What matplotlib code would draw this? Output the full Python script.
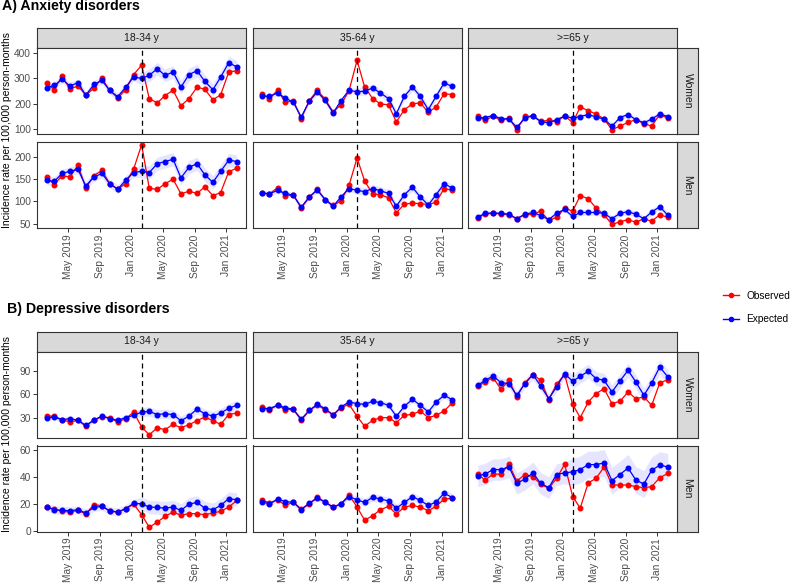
"""
Observed vs expected monthly incidence of anxiety and depressive disorders,
by age group and sex, with the March 2020 break marked.
"""
import matplotlib
matplotlib.use("Agg")
import matplotlib.dates as mdates
import matplotlib.pyplot as plt
import numpy as np
import pandas as pd
from matplotlib.lines import Line2D

plt.rcParams["font.family"] = ["Liberation Sans", "DejaVu Sans"]

W, H = 793, 584
RED = "#FF0000"
BLUE = "#0000FF"
GREY20 = "#333333"
GREY30 = "#4D4D4D"
STRIP = "#D9D9D9"

MONTHS = pd.date_range("2019-02-10", periods=25, freq=pd.DateOffset(months=1))
BREAK_IDX = 12
AGES = ["18-34 y", "35-64 y", ">=65 y"]
SEXES = ["Women", "Men"]

# ---- A) anxiety, expected / observed per 100,000 person-months
ANX_W_1834_EXP = [263, 272, 296, 270, 283, 233, 276, 292, 252, 228, 264, 305, 300,
                  312, 338, 312, 325, 265, 315, 330, 288, 255, 305, 362, 345]
ANX_W_1834_OBS = [280, 255, 308, 258, 270, 233, 262, 300, 252, 222, 255, 315, 352,
                  220, 203, 232, 253, 192, 220, 265, 257, 215, 235, 325, 330]
ANX_M_1834_EXP = [148, 145, 163, 168, 172, 135, 155, 163, 140, 127, 148, 165, 168,
                  165, 185, 190, 195, 153, 177, 185, 160, 143, 168, 193, 190]
ANX_M_1834_OBS = [155, 138, 158, 155, 182, 130, 158, 170, 140, 128, 140, 173, 228,
                  130, 127, 140, 150, 117, 123, 118, 133, 113, 120, 167, 175]
ANX_W_3564_EXP = [229, 229, 242, 222, 205, 147, 209, 246, 213, 163, 212, 253, 247,
                  249, 262, 242, 220, 160, 229, 266, 229, 176, 229, 282, 268]
ANX_W_3564_OBS = [239, 220, 253, 205, 212, 141, 212, 253, 218, 167, 196, 251, 371,
                  266, 220, 199, 195, 128, 176, 199, 203, 166, 187, 239, 236]
ANX_M_3564_EXP = [119, 117, 125, 118, 114, 87, 110, 126, 104, 89, 110, 129, 125,
                  122, 129, 124, 118, 89, 115, 132, 110, 92, 115, 140, 130]
ANX_M_3564_OBS = [119, 117, 131, 113, 114, 85, 109, 127, 104, 91, 101, 136, 198,
                  146, 117, 115, 108, 74, 94, 96, 95, 93, 98, 129, 125]
ANX_W_65_EXP = [143, 145, 153, 141, 139, 107, 142, 153, 129, 124, 137, 150, 143,
                149, 157, 147, 139, 111, 145, 157, 137, 124, 139, 159, 149]
ANX_W_65_OBS = [153, 134, 150, 134, 143, 97, 150, 150, 130, 134, 128, 153, 124,
                187, 172, 159, 139, 97, 111, 126, 137, 121, 111, 157, 143]
ANX_M_65_EXP = [65, 73, 74, 73, 71, 61, 71, 75, 68, 59, 73, 82, 66,
                75, 75, 75, 73, 61, 73, 77, 71, 61, 76, 88, 69]
ANX_M_65_OBS = [62, 72, 73, 72, 70, 61, 70, 71, 78, 57, 64, 85, 78,
                113, 106, 85, 70, 48, 54, 59, 53, 61, 55, 70, 64]

# ---- B) depressive disorders
DEP_W_1834_EXP = [30, 30.4, 27.4, 28.7, 26.6, 20, 26.6, 32, 28.7, 26.6, 30, 33, 37,
                  38, 34, 35, 34, 26, 32, 41, 35, 32, 36, 42, 46]
DEP_W_1834_OBS = [32, 32, 27.4, 24.4, 26.6, 19, 27.4, 31, 30, 24.4, 28.7, 37, 18,
                  8, 17, 14.6, 21.4, 17, 21, 26, 31, 26, 21.4, 34, 36]
DEP_M_1834_EXP = [17.9, 15.9, 15.4, 15.2, 15.9, 13.5, 17.6, 18.4, 15.2, 14.2, 16.7, 20.6, 20.3,
                  17.9, 17.6, 17.1, 17.9, 15.4, 20.1, 21.3, 17.1, 15.9, 19.1, 24.2, 23.3]
DEP_M_1834_OBS = [17.9, 16.4, 14.7, 14.2, 15.4, 12.7, 19.6, 18.9, 14.7, 14.2, 16.4, 20.1, 12.2,
                  2.9, 6.6, 11, 14.2, 11.8, 13, 13, 12.2, 13.5, 14.7, 17.9, 22.8]
DEP_W_3564_EXP = [41.6, 41.6, 45.9, 42.9, 40.7, 27.9, 39.4, 47.1, 41.6, 33, 43.7, 50.1, 48,
                  47.1, 51, 49.3, 45.9, 31.7, 44.6, 53.6, 45.9, 37.3, 50.1, 58.7, 53.1]
DEP_W_3564_OBS = [43.7, 40.3, 45.9, 40.3, 40.7, 26.6, 39.4, 45.9, 40.3, 33.9, 42.9, 47.1, 31.7,
                  18.9, 26.6, 30, 30, 23.6, 33, 34.3, 38.6, 30, 33, 38.6, 48.9]
DEP_M_3564_EXP = [22, 20.1, 23.8, 22, 21.3, 15.9, 20.8, 24.5, 21.6, 17.6, 20.3, 25.7, 23.3,
                  21.3, 25.2, 23.8, 22.5, 17.1, 21.3, 25.7, 22.8, 19.1, 21.6, 28.2, 25]
DEP_M_3564_OBS = [23.3, 20.8, 23.3, 19.1, 21.6, 16.4, 20.3, 25.2, 21.6, 17.9, 20.3, 26.9, 17.9,
                  8.1, 11.5, 15.9, 18.4, 12.7, 17.9, 19.1, 17.9, 15.2, 18.4, 23.8, 24.5]
DEP_W_65_EXP = [71.6, 78, 83.6, 75, 73.7, 58.7, 73.7, 85.3, 70.7, 54.4, 69.4, 86.6, 76.7,
                83.1, 89.6, 80.1, 78, 63, 77.1, 90.9, 75.9, 58.7, 74.6, 95.1, 82.3]
DEP_W_65_OBS = [70.3, 75.9, 81.4, 66.4, 78, 56.6, 74.6, 85.3, 78, 53.1, 72.9, 85.3, 47.1,
                30, 50.1, 60.9, 67.3, 48, 51, 63, 54.4, 56.6, 45.9, 74.6, 78.9]
DEP_M_65_EXP = [41.1, 42.4, 45.8, 45.8, 47.8, 35.5, 38.7, 43.3, 35.5, 32.3, 42.1, 43.3, 44.1,
                45.8, 49.5, 49.5, 50.7, 37.5, 42.1, 47, 38, 35, 45.3, 49, 47.8]
DEP_M_65_OBS = [42.4, 38, 42.4, 42.4, 49.7, 37.2, 42.1, 40.4, 35, 31.8, 39.2, 49.7, 25.7,
                17.1, 36, 39.2, 47.8, 34.3, 34.3, 34.3, 33.1, 32.3, 33.1, 39.7, 42.9]

# half-width of the 95% band around expected, (before break, from break on)
ANX_BAND = {("Women", "18-34 y"): (15, 25), ("Women", "35-64 y"): (10, 15), ("Women", ">=65 y"): (8, 10),
            ("Men", "18-34 y"): (10, 15), ("Men", "35-64 y"): (6, 9), ("Men", ">=65 y"): (5, 7)}
DEP_BAND = {("Women", "18-34 y"): (3, 6), ("Women", "35-64 y"): (3, 4), ("Women", ">=65 y"): (6, 9),
            ("Men", "18-34 y"): (3, 5), ("Men", "35-64 y"): (2, 3), ("Men", ">=65 y"): (8, 10)}

ANX = {
    ("Women", "18-34 y"): (ANX_W_1834_OBS, ANX_W_1834_EXP),
    ("Women", "35-64 y"): (ANX_W_3564_OBS, ANX_W_3564_EXP),
    ("Women", ">=65 y"): (ANX_W_65_OBS, ANX_W_65_EXP),
    ("Men", "18-34 y"): (ANX_M_1834_OBS, ANX_M_1834_EXP),
    ("Men", "35-64 y"): (ANX_M_3564_OBS, ANX_M_3564_EXP),
    ("Men", ">=65 y"): (ANX_M_65_OBS, ANX_M_65_EXP),
}
DEP = {
    ("Women", "18-34 y"): (DEP_W_1834_OBS, DEP_W_1834_EXP),
    ("Women", "35-64 y"): (DEP_W_3564_OBS, DEP_W_3564_EXP),
    ("Women", ">=65 y"): (DEP_W_65_OBS, DEP_W_65_EXP),
    ("Men", "18-34 y"): (DEP_M_1834_OBS, DEP_M_1834_EXP),
    ("Men", "35-64 y"): (DEP_M_3564_OBS, DEP_M_3564_EXP),
    ("Men", ">=65 y"): (DEP_M_65_OBS, DEP_M_65_EXP),
}

# layout in pixels
COL_X = [37.3, 252.7, 468.3]
COL_W = 209.0
PANEL_H = 86.0
ROW_GAP = 8.0
STRIP_H = 20.0
RSTRIP_W = 20.4

SECTIONS = [
    dict(title="A) Anxiety disorders", tx=2, ty=10, top=28.0, data=ANX, band=ANX_BAND,
         ylims=[(80, 420), (40, 234)], yticks=[[100, 200, 300, 400], [50, 100, 150, 200]]),
    dict(title="B) Depressive disorders", tx=7, ty=313, top=331.5, data=DEP, band=DEP_BAND,
         ylims=[(4.5, 115), (-0.3, 63.7)], yticks=[[30, 60, 90], [0, 20, 40, 60]]),
]


def rect(x0, y0, x1, y1):
    return [x0 / W, 1 - y1 / H, (x1 - x0) / W, (y1 - y0) / H]


def style_box(ax):
    for s in ax.spines.values():
        s.set_color(GREY20)
        s.set_linewidth(0.8)


fig = plt.figure(figsize=(W / 100, H / 100), dpi=100)

span = (MONTHS[-1] - MONTHS[0]) * 0.05
xlim = (MONTHS[0] - span, MONTHS[-1] + span)

for sec in SECTIONS:
    fig.text(sec["tx"] / W, 1 - sec["ty"] / H, sec["title"], fontsize=10.2,
             fontweight="bold", ha="left", va="baseline")
    top = sec["top"]
    # column strips
    for c, age in enumerate(AGES):
        sax = fig.add_axes(rect(COL_X[c], top, COL_X[c] + COL_W, top + STRIP_H))
        sax.set_facecolor(STRIP)
        sax.set_xticks([]); sax.set_yticks([])
        style_box(sax)
        sax.text(0.5, 0.5, age, transform=sax.transAxes, ha="center", va="center",
                 fontsize=7.5, color="#1A1A1A")
    for r, sex in enumerate(SEXES):
        y0 = top + STRIP_H + r * (PANEL_H + ROW_GAP)
        y1 = y0 + PANEL_H
        rax = fig.add_axes(rect(COL_X[2] + COL_W, y0, COL_X[2] + COL_W + RSTRIP_W, y1))
        rax.set_facecolor(STRIP)
        rax.set_xticks([]); rax.set_yticks([])
        style_box(rax)
        rax.text(0.5, 0.5, sex, transform=rax.transAxes, ha="center", va="center",
                 rotation=-90, fontsize=7.5, color="#1A1A1A")
        for c, age in enumerate(AGES):
            ax = fig.add_axes(rect(COL_X[c], y0, COL_X[c] + COL_W, y1))
            obs, exp = sec["data"][(sex, age)]
            obs = np.asarray(obs, float)
            exp = np.asarray(exp, float)
            pre, post = sec["band"][(sex, age)]
            hw = np.where(np.arange(len(exp)) < BREAK_IDX, pre, post)
            ax.fill_between(MONTHS, exp - hw, exp + hw, color=BLUE, alpha=0.1, lw=0)
            ax.plot(MONTHS, obs, color=RED, marker="o", ms=3.3, lw=0.9)
            ax.plot(MONTHS, exp, color=BLUE, marker="o", ms=3.3, lw=0.9)
            ax.axvline(MONTHS[BREAK_IDX], color="black", ls=(0, (4, 3)), lw=0.9)
            ax.set_xlim(xlim)
            ax.set_ylim(sec["ylims"][r])
            ax.set_yticks(sec["yticks"][r])
            ax.xaxis.set_major_locator(mdates.MonthLocator(bymonth=[1, 5, 9]))
            ax.xaxis.set_major_formatter(mdates.DateFormatter("%b %Y"))
            ax.tick_params(colors=GREY20, labelcolor=GREY30, labelsize=7.3,
                           length=3, width=0.7, pad=1.5)
            style_box(ax)
            if r == 0:
                ax.tick_params(axis="x", bottom=False, labelbottom=False)
            else:
                for lab in ax.get_xticklabels():
                    lab.set_rotation(90)
            if c > 0:
                ax.tick_params(axis="y", left=False, labelleft=False)
    ymid = top + (STRIP_H + 2 * PANEL_H + ROW_GAP) / 2 + 2
    fig.text(7 / W, 1 - ymid / H, "Incidence rate per 100,000 person-months",
             rotation=90, ha="center", va="center", fontsize=7.5)

handles = [Line2D([], [], color=RED, marker="o", ms=3.0, lw=1),
           Line2D([], [], color=BLUE, marker="o", ms=3.0, lw=1)]
fig.legend(handles, ["Observed", "Expected"], loc="center left",
           bbox_to_anchor=(714 / W, 1 - 307.5 / H), frameon=False, fontsize=7.3,
           handlelength=1.6, labelspacing=1.3, handletextpad=0.7)

fig.savefig("out.png", dpi=100)
